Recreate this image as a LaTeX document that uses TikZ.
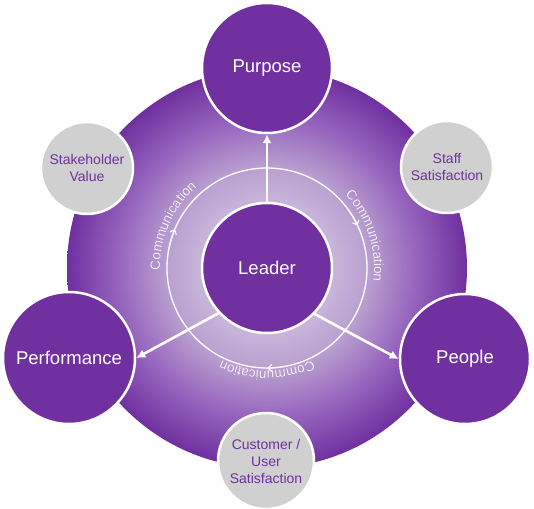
\documentclass[tikz,border=0pt]{standalone}
\usepackage{fontspec}
\setmainfont{Liberation Sans}
\usetikzlibrary{decorations.text,arrows.meta,shadings}
\definecolor{purp}{RGB}{112,48,160}
\definecolor{lavc}{RGB}{230,222,238}
\definecolor{lavm}{RGB}{186,160,208}
\definecolor{lavo}{RGB}{148,98,188}
\definecolor{greyc}{RGB}{208,208,208}
\definecolor{commc}{RGB}{248,244,251}
\definecolor{shadc}{RGB}{90,50,120}
\pgfdeclareradialshading{bigshade}{\pgfpoint{0bp}{0bp}}{color(0bp)=(lavc); color(12.5bp)=(lavm); color(19bp)=(lavo); color(25bp)=(purp); color(50bp)=(purp)}
\begin{document}
\begin{tikzpicture}[x=1pt,y=1pt,
  mainnode/.style={circle, fill=purp, draw=white, line width=2.5pt, text=white, font=\fontsize{18.5}{20}\selectfont, minimum size=130pt, inner sep=0pt},
  sidenode/.style={circle, fill=greyc, draw=white, line width=2.5pt, text=purp, font=\fontsize{14}{17}\selectfont, align=center, minimum size=92pt, inner sep=0pt},
  leadarrow/.style={draw=white, line width=2.6pt, -{Latex[length=9pt,width=9pt]}},
  ringline/.style={draw=white, line width=1.3pt},
  ringtip/.style={draw=white, line width=1.1pt, -{Straight Barb[length=4pt,width=7pt]}},
  commtext/.style={decorate, decoration={text along path, text align=center, text color=commc, text={|\fontsize{13.5}{15}\selectfont|Communication}}},
  commshadow/.style={decorate, decoration={text along path, text align=center, text color=shadc, text={|\fontsize{13.5}{15}\selectfont|Communication}}}
]
\useasboundingbox (0,0) rectangle (534,508);
\coordinate (C) at (267,240);
\shade[shading=bigshade] (C) circle[radius=200];
\draw[ringline] (C) circle[radius=100];
\draw[ringtip] (C) ++(168:100) arc[start angle=168,end angle=157,radius=100];
\draw[ringtip] (C) ++(36:100) arc[start angle=36,end angle=25,radius=100];
\draw[ringtip] (C) ++(281:100) arc[start angle=281,end angle=270,radius=100];
\begin{scope}[opacity=0.35, shift={(0.8,-0.8)}]
\path[commshadow] (C) ++(190:107) arc[start angle=190,end angle=122,radius=107];
\path[commshadow] (C) ++(52:107) arc[start angle=52,end angle=-16,radius=107];
\path[commshadow] (C) ++(304:103) arc[start angle=304,end angle=236,radius=103];
\end{scope}
\path[commtext] (C) ++(190:107) arc[start angle=190,end angle=122,radius=107];
\path[commtext] (C) ++(52:107) arc[start angle=52,end angle=-16,radius=107];
\path[commtext] (C) ++(304:103) arc[start angle=304,end angle=236,radius=103];
\node[mainnode] (leader) at (C) {Leader};
\node[mainnode] (purpose) at (267,440) {Purpose};
\node[mainnode, minimum size=132pt] (perf) at (69,150) {Performance};
\node[mainnode] (people) at (465,149) {People};
\node[sidenode] (stake) at (87,340) {Stakeholder\\Value};
\node[sidenode] (staff) at (447,341) {Staff\\Satisfaction};
\node[sidenode, minimum size=96pt] (cust) at (266,47) {Customer /\\User\\Satisfaction};
\draw[leadarrow] (leader.north) -- (purpose.south);
\draw[leadarrow] (leader.-137) -- (perf.east);
\draw[leadarrow] (leader.-44) -- (people.west);
\end{tikzpicture}
\end{document}
